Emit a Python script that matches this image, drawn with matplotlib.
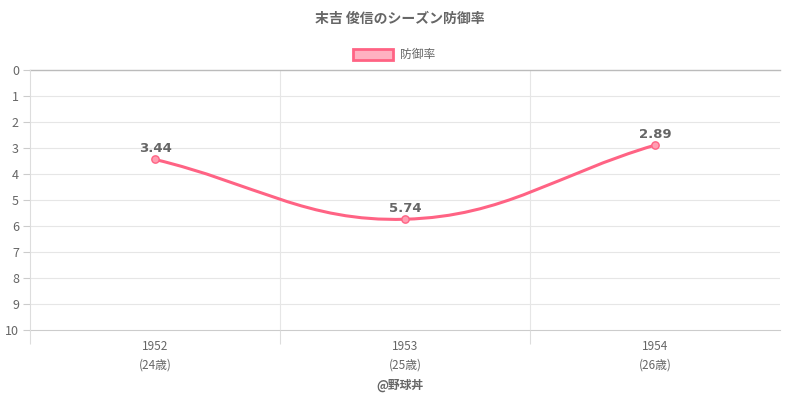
import matplotlib
matplotlib.use('Agg')
import matplotlib.pyplot as plt
import numpy as np
from matplotlib.path import Path
from matplotlib.patches import PathPatch, Rectangle

plt.rcParams['font.family'] = ['Noto Sans CJK JP', 'DejaVu Sans']

title = '末吉 俊信のシーズン防御率'
series_name = '防御率'
years = ['1952', '1953', '1954']
ages = ['(24歳)', '(25歳)', '(26歳)']
era = [3.44, 5.74, 2.89]
footer = '@野球丼'

line_color = '#ff6384'
text_color = '#666666'
grid_color = '#e6e6e6'

fig = plt.figure(figsize=(8, 4), dpi=100)
ax = fig.add_axes([0.0375, 0.175, 0.9375, 0.65])
ax.set_xlim(-0.5, len(years) - 0.5)
ax.set_ylim(10, 0)

# grid: horizontal at each integer, vertical between categories
ax.set_yticks(range(0, 11))
ax.set_xticks(range(len(years)))
ax.set_xticklabels([f'{y}\n{a}' for y, a in zip(years, ages)])
ax.set_xticks(np.arange(-0.5, len(years) - 1), minor=True)
ax.grid(False)
for v in range(1, 10):
    ax.axhline(v, color=grid_color, lw=0.8, zorder=0)
ax.axhline(10, color='#cccccc', lw=0.8, zorder=0, clip_on=False)
for v in np.arange(0.5, len(years) - 0.5):
    ax.axvline(v, color=grid_color, lw=0.8, zorder=0)
ax.axhline(0, color='#bbbbbb', lw=1, zorder=1, clip_on=False)
for s in ['top', 'right', 'bottom']:
    ax.spines[s].set_visible(False)
ax.spines['left'].set_color('#dddddd')
ax.spines['left'].set_linewidth(0.8)
ax.tick_params(axis='y', colors='#cccccc', labelcolor=text_color, labelsize=9,
               length=5, width=0.8, pad=3)
ax.tick_params(axis='x', which='major', length=0, labelcolor=text_color,
               labelsize=8.5, pad=7)
ax.tick_params(axis='x', which='minor', length=10, color='#dddddd', width=0.8)
for lbl in ax.get_xticklabels():
    lbl.set_linespacing(1.6)

# Chart.js style spline (tension 0.4) computed in pixel space
xs = np.arange(len(era), dtype=float)
pts = ax.transData.transform(np.column_stack([xs, era]))
t = 0.4
cps = []
for i in range(len(pts)):
    prev = pts[i - 1] if i > 0 else pts[i]
    cur = pts[i]
    nxt = pts[i + 1] if i < len(pts) - 1 else pts[i]
    d01 = np.hypot(*(cur - prev))
    d12 = np.hypot(*(nxt - cur))
    tot = d01 + d12
    s01 = d01 / tot if tot else 0
    s12 = d12 / tot if tot else 0
    cps.append((cur - t * s01 * (nxt - prev), cur + t * s12 * (nxt - prev)))
verts = [pts[0]]
codes = [Path.MOVETO]
for i in range(len(pts) - 1):
    verts += [cps[i][1], cps[i + 1][0], pts[i + 1]]
    codes += [Path.CURVE4] * 3
inv = ax.transData.inverted()
path = Path(inv.transform(np.array(verts)), codes)
ax.add_patch(PathPatch(path, facecolor='none', edgecolor=line_color, lw=2.2,
                       zorder=3, capstyle='round'))

ax.scatter(xs, era, s=28, facecolor='#ff9eb2', edgecolor=line_color,
           linewidth=1, zorder=4)
for x, v in zip(xs, era):
    ax.annotate(f'{v:.2f}', (x, v), xytext=(0, 3), textcoords='offset points',
                ha='center', va='bottom', fontsize=9.5, fontweight='bold',
                color=text_color, family=['DejaVu Sans'])

fig.text(0.5, 0.953, title, ha='center', va='center', fontsize=10,
         fontweight='bold', color=text_color)
# legend
fig.patches.append(Rectangle((353 / 800, 1 - 60 / 400), 40 / 800, 11 / 400,
                             transform=fig.transFigure, facecolor='#ffb1c1',
                             edgecolor=line_color, lw=2))
fig.text(400 / 800, 1 - 54 / 400, series_name, ha='left', va='center',
         fontsize=8.5, color=text_color)
fig.text(0.5, 1 - 385 / 400, footer, ha='center', va='center', fontsize=8.5,
         fontweight='bold', color=text_color)

fig.savefig('out.png', dpi=100)
